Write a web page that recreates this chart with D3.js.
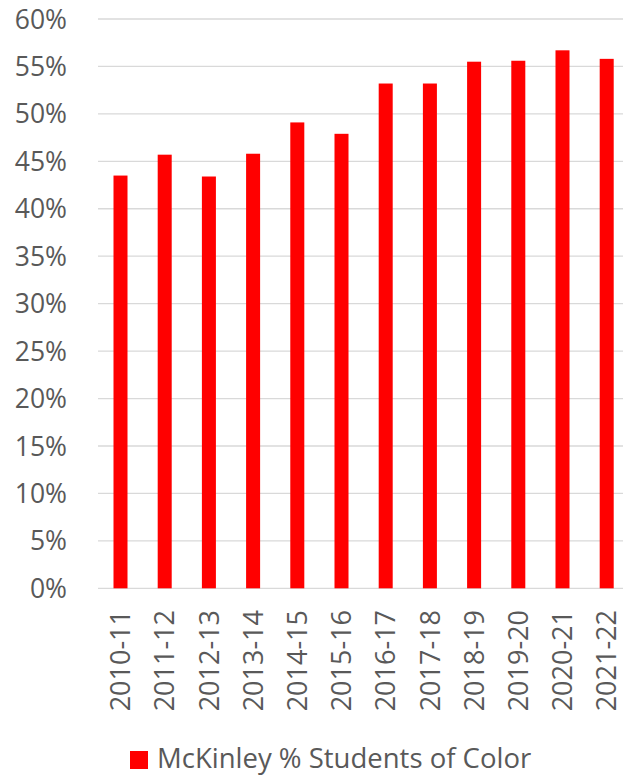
<!DOCTYPE html>
<html>
<head>
<meta charset="utf-8">
<script src="https://cdn.jsdelivr.net/npm/d3@7"></script>
<style>
  body { margin: 0; background: #fff; }
  text { font-family: "Open Sans", sans-serif; fill: #595959; }
</style>
</head>
<body>
<div id="chart"></div>
<script>
const years = ["2010-11", "2011-12", "2012-13", "2013-14", "2014-15", "2015-16",
               "2016-17", "2017-18", "2018-19", "2019-20", "2020-21", "2021-22"];
const pctColor = [43.5, 45.7, 43.4, 45.8, 49.1, 47.9, 53.2, 53.2, 55.5, 55.6, 56.7, 55.8];
const yTicks = [0, 5, 10, 15, 20, 25, 30, 35, 40, 45, 50, 55, 60];
const seriesName = "McKinley % Students of Color";

const width = 623, height = 778;

const svg = d3.select("#chart").append("svg")
              .attr("width", width)
              .attr("height", height);

// y scale: 0% at the base gridline, 60% at the top one
const y = d3.scaleLinear()
            .domain([0, 60])
            .range([588.3, 19]);

// the plot area runs a bit past the right edge of the picture
const x = d3.scaleBand()
            .domain(years)
            .range([98.4, 628.8])
            .paddingInner(0.683)
            .paddingOuter(0.3415);

// gridlines
svg.append("g")
   .selectAll("line")
   .data(yTicks)
   .enter()
   .append("line")
   .attr("x1", 98)
   .attr("x2", width)
   .attr("y1", d => y(d))
   .attr("y2", d => y(d))
   .attr("stroke", "#d9d9d9")
   .attr("stroke-width", 1.3);

// y tick labels
svg.append("g")
   .selectAll("text")
   .data(yTicks)
   .enter()
   .append("text")
   .attr("x", 67)
   .attr("y", d => y(d))
   .attr("dy", "0.36em")
   .attr("text-anchor", "end")
   .style("font-size", "26.5px")
   .text(d => d + "%");

// bars
svg.append("g")
   .selectAll("rect")
   .data(pctColor)
   .enter()
   .append("rect")
   .attr("x", (d, i) => x(years[i]))
   .attr("y", d => y(d))
   .attr("width", x.bandwidth())
   .attr("height", d => y(0) - y(d))
   .attr("fill", "#ff0000");

// x labels, rotated
svg.append("g")
   .selectAll("text")
   .data(years)
   .enter()
   .append("text")
   .attr("transform", d => `translate(${x(d) + x.bandwidth() / 2}, 610) rotate(-90)`)
   .attr("dy", "0.36em")
   .attr("text-anchor", "end")
   .style("font-size", "27px")
   .text(d => d);

// legend
const legend = svg.append("g");
legend.append("rect")
      .attr("x", 130)
      .attr("y", 751)
      .attr("width", 18)
      .attr("height", 18)
      .attr("fill", "#ff0000");
legend.append("text")
      .attr("x", 157)
      .attr("y", 768)
      .style("font-size", "27.5px")
      .text(seriesName);
</script>
</body>
</html>
